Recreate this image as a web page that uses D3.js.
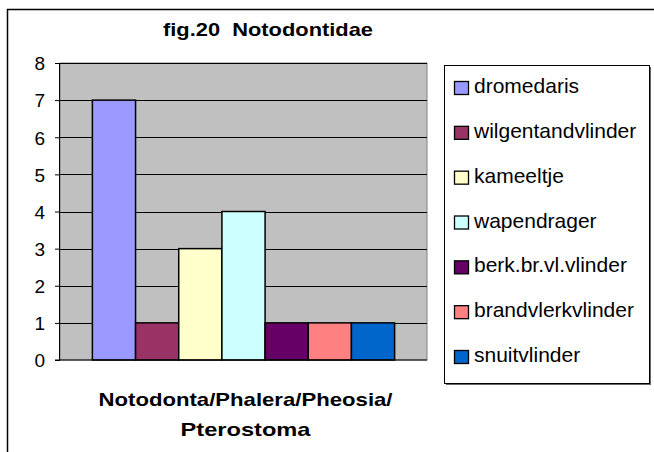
<!DOCTYPE html>
<html><head><meta charset="utf-8">
<script src="https://cdn.jsdelivr.net/npm/d3@7"></script>
<style>html,body{margin:0;padding:0;background:#fff;}svg{display:block;font-family:Arial,"Liberation Sans",sans-serif;}</style>
</head><body>
<script>
const title = "fig.20  Notodontidae";
const categoryLines = ["Notodonta/Phalera/Pheosia/", "Pterostoma"];
const seriesNames = ["dromedaris","wilgentandvlinder","kameeltje","wapendrager","berk.br.vl.vlinder","brandvlerkvlinder","snuitvlinder"];
const seriesValues = [7, 1, 3, 4, 1, 1, 1];
const seriesColors = ["#9999FF","#993366","#FFFFCC","#CCFFFF","#660066","#FF8080","#0066CC"];
const yTicks = [0,1,2,3,4,5,6,7,8];

const W = 654, H = 452;
const svg = d3.select("body").append("svg").attr("width", W).attr("height", H);

// outer chart border
svg.append("rect").attr("x", 7.5).attr("y", 9.5).attr("width", 700).attr("height", 500)
  .attr("fill", "#fff").attr("stroke", "#000").attr("stroke-width", 1.5);

const plot = {left: 60, top: 63, right: 427, bottom: 360};
const y = d3.scaleLinear().domain([0, 8]).range([plot.bottom, plot.top]);
const x = d3.scaleBand().domain(seriesNames).range([plot.left, plot.right]).paddingOuter(0.75).paddingInner(0);

svg.append("rect").attr("x", plot.left).attr("y", plot.top)
  .attr("width", plot.right - plot.left).attr("height", plot.bottom - plot.top)
  .attr("fill", "#C0C0C0").attr("stroke", "#808080").attr("stroke-width", 1);

// gridlines
svg.append("g").selectAll("line").data(yTicks.filter(d => d > 0)).join("line")
  .attr("x1", plot.left).attr("x2", plot.right)
  .attr("y1", d => Math.round(y(d)) + 0.5).attr("y2", d => Math.round(y(d)) + 0.5)
  .attr("stroke", "#000").attr("stroke-width", 1);

// bars
svg.append("g").selectAll("rect").data(seriesNames).join("rect")
  .attr("x", d => x(d)).attr("width", x.bandwidth())
  .attr("y", (d, i) => y(seriesValues[i])).attr("height", (d, i) => y(0) - y(seriesValues[i]))
  .attr("fill", (d, i) => seriesColors[i]).attr("stroke", "#000").attr("stroke-width", 1.5);

// y axis
const yAxis = d3.axisLeft(y).tickValues(yTicks).tickSize(5).tickPadding(10).tickFormat(d3.format("d"));
const ga = svg.append("g").attr("transform", `translate(${plot.left},0)`).call(yAxis);
ga.select(".domain").attr("stroke", "#000").attr("d", `M-0.5,${plot.top}V${plot.bottom}`);
ga.selectAll(".tick line").attr("stroke", "#000");
ga.selectAll(".tick text").attr("font-size", 19).attr("fill", "#000").attr("dy", "0.36em")
  .attr("font-family", "Arial, Liberation Sans, sans-serif");
svg.append("line").attr("x1", plot.left - 5).attr("x2", plot.right).attr("y1", plot.bottom).attr("y2", plot.bottom).attr("stroke", "#000");

// title
svg.append("text").attr("x", 268).attr("y", 36).attr("text-anchor", "middle")
  .style("white-space", "pre").attr("xml:space", "preserve")
  .attr("font-size", 19).attr("font-weight", "bold")
  .attr("textLength", 210).attr("lengthAdjust", "spacingAndGlyphs").text(title);

// category label
const cx = (plot.left + plot.right) / 2;
const catLens = [294, 130];
svg.append("g").selectAll("text").data(categoryLines).join("text")
  .attr("text-anchor", "middle").attr("font-size", 19).attr("font-weight", "bold")
  .attr("x", cx + 2).attr("y", (d, i) => 406 + i * 30)
  .attr("textLength", (d, i) => catLens[i]).attr("lengthAdjust", "spacingAndGlyphs")
  .text(d => d);

// legend
const lg = {x: 444, y: 65, w: 205, h: 318};
svg.append("rect").attr("x", lg.x + 2).attr("y", lg.y + 2).attr("width", lg.w).attr("height", lg.h).attr("fill", "#666");
svg.append("rect").attr("x", lg.x + 0.5).attr("y", lg.y + 0.5).attr("width", lg.w).attr("height", lg.h)
  .attr("fill", "#fff").attr("stroke", "#000").attr("stroke-width", 1);
const ly = d3.scalePoint().domain(seriesNames).range([86, 355]);
const items = svg.append("g").selectAll("g").data(seriesNames).join("g")
  .attr("transform", d => `translate(0,${ly(d)})`);
items.append("rect").attr("x", 454.5).attr("y", -4.5).attr("width", 14).attr("height", 13)
  .attr("fill", (d, i) => seriesColors[i]).attr("stroke", "#000").attr("stroke-width", 1.3);
items.append("text").attr("x", 474).attr("y", 7).attr("font-size", 21).text(d => d);
</script>
</body></html>
